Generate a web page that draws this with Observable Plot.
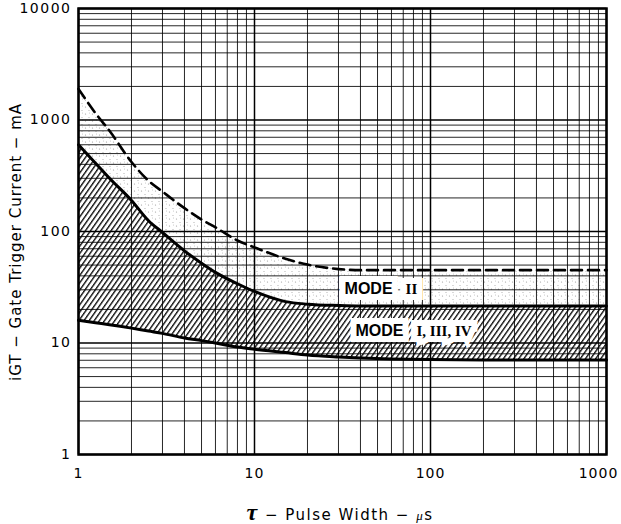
<!DOCTYPE html>
<html><head><meta charset="utf-8">
<script src="https://cdn.jsdelivr.net/npm/d3@7"></script>
<script src="https://cdn.jsdelivr.net/npm/@observablehq/plot@0.6"></script>
<style>
html,body{margin:0;padding:0;background:#fff;}
#chart svg{display:block}
#chart g[aria-label^="y-axis"] text{letter-spacing:1.5px}
#chart g[aria-label^="x-axis"] text{letter-spacing:1px}
</style></head><body><div id="chart"></div>
<script>
// Pulse width (µs) sample points
const pulseWidth = [1, 1.25, 1.5, 2, 2.5, 3, 4, 5, 6, 8, 10, 15, 20, 30, 40, 60, 100, 200, 500, 1000];
// Mode II maximum (dashed), mA
const modeIIMax  = [1900, 1150, 800, 420, 285, 228, 162, 128, 109, 83, 72, 57, 50.5, 46, 45, 45, 45, 45, 45, 45];
// Mode I, III, IV maximum (upper solid), mA
const modeIMax   = [600, 410, 300, 190, 125, 98, 67, 52, 43, 34, 29, 23.5, 22.3, 21.7, 21.5, 21.5, 21.5, 21.5, 21.5, 21.5];
// Mode I, III, IV minimum (lower solid), mA
const modeIMin   = [16, 15.2, 14.6, 13.6, 12.8, 12.2, 11.1, 10.5, 10, 9.2, 8.8, 8.2, 7.8, 7.5, 7.35, 7.2, 7.1, 7.05, 7.05, 7.05];
const xTicks = [1, 10, 100, 1000];
const yTicks = [1, 10, 100, 1000, 10000];
const modeLabels = [
  {word: "MODE", roman: "II", x: 33.8, y: 30.4},
  {word: "MODE", roman: "I, III, IV", x: 39, y: 12.8}
];

const rows = pulseWidth.map((x, i) => ({x, lo: modeIMin[i], hi: modeIMax[i], top: modeIIMax[i]}));
const decadesX = [1, 10, 100];
const decadesY = [1, 10, 100, 1000];
const minorX = decadesX.flatMap(d => d3.range(2, 10).map(k => k * d));
const minorY = decadesY.flatMap(d => d3.range(2, 10).map(k => k * d));

const chart = Plot.plot({
  width: 621, height: 524,
  marginLeft: 78, marginRight: 15, marginTop: 8, marginBottom: 70,
  style: {fontFamily: "DejaVu Sans, sans-serif", fontSize: "14px", background: "#fff", color: "#000"},
  x: {type: "log", domain: [1, 1000], ticks: xTicks, tickFormat: d => String(d), tickSize: 0, tickPadding: 14, label: null},
  y: {type: "log", domain: [1, 10000], ticks: yTicks, tickFormat: d => String(d), tickSize: 0, tickPadding: 7, label: null},
  marks: [
    Plot.areaY(rows, {x: "x", y1: "hi", y2: "top", fill: "url(#stipple)", curve: "monotone-x"}),
    Plot.areaY(rows, {x: "x", y1: "lo", y2: "hi", fill: "url(#hatch)", curve: "monotone-x"}),
    Plot.ruleX(minorX, {stroke: "#000", strokeWidth: 1, strokeOpacity: 0.85}),
    Plot.ruleY(minorY, {stroke: "#000", strokeWidth: 1, strokeOpacity: 0.85}),
    Plot.ruleX(xTicks, {stroke: "#000", strokeWidth: 1.5}),
    Plot.ruleY(yTicks, {stroke: "#000", strokeWidth: 1.5}),
    Plot.line(rows, {x: "x", y: "top", stroke: "#000", strokeWidth: 2.6, strokeDasharray: "11,6", curve: "monotone-x"}),
    Plot.line(rows, {x: "x", y: "hi", stroke: "#000", strokeWidth: 3, curve: "monotone-x"}),
    Plot.line(rows, {x: "x", y: "lo", stroke: "#000", strokeWidth: 3, curve: "monotone-x"}),
    Plot.text(modeLabels, {x: "x", y: "y", text: "word", textAnchor: "start", lineAnchor: "middle", dx: -3,
      fontFamily: "Liberation Sans, sans-serif", fontWeight: "bold", fontSize: 16, fill: "#000",
      stroke: "#fff", strokeWidth: 12, strokeLinejoin: "miter"}),
    Plot.text(modeLabels, {x: "x", y: "y", text: "roman", textAnchor: "start", lineAnchor: "middle", dx: 58,
      fontFamily: "Liberation Serif, serif", fontWeight: "bold", fontSize: 15, fill: "#000",
      stroke: "#fff", strokeWidth: 12, strokeLinejoin: "miter"}),
    Plot.frame({stroke: "#000", strokeWidth: 2.5})
  ]
});

const svg = d3.select(chart);
svg.insert("defs", ":first-child").html(`
  <pattern id="hatch" patternUnits="userSpaceOnUse" width="4.2" height="10" patternTransform="rotate(35)">
    <rect width="4.2" height="10" fill="#fff"/>
    <line x1="0.7" y1="0" x2="0.7" y2="10" stroke="#000" stroke-width="1.3"/>
  </pattern>
  <pattern id="stipple" patternUnits="userSpaceOnUse" width="7" height="7">
    <rect width="7" height="7" fill="#fff"/>
    <circle cx="1.5" cy="2" r="0.6" fill="#999"/>
    <circle cx="5" cy="5.5" r="0.6" fill="#aaa"/>
    <circle cx="5.5" cy="1" r="0.5" fill="#bbb"/>
  </pattern>`);

// keep the last x tick label inside the picture, as in the reference
svg.selectAll('g[aria-label^="x-axis"] text')
  .filter(function() { return this.textContent === "1000"; })
  .attr("dx", -8);

// Axis titles
const yl = svg.append("text")
  .attr("transform", "translate(21,242) rotate(-90)")
  .attr("text-anchor", "middle")
  .style("font-family", "DejaVu Sans, sans-serif").style("font-size", "15px").style("letter-spacing", "1px")
  .attr("fill", "#000");
yl.text("iGT − Gate Trigger Current − mA");

const xl = svg.append("text")
  .attr("x", 340).attr("y", 520)
  .attr("text-anchor", "middle")
  .style("font-family", "DejaVu Sans, sans-serif").style("font-size", "15px").style("letter-spacing", "1.5px")
  .attr("fill", "#000");
xl.append("tspan").text("τ").style("font-family", "Liberation Serif, serif").style("font-style", "italic").style("font-size", "24px").style("font-weight", "bold");
xl.append("tspan").text(" − Pulse Width − ");
xl.append("tspan").text("μ").style("font-family", "Liberation Serif, serif").style("font-style", "italic").style("font-size", "13px");
xl.append("tspan").text("s");

document.getElementById("chart").appendChild(chart);
</script></body></html>
